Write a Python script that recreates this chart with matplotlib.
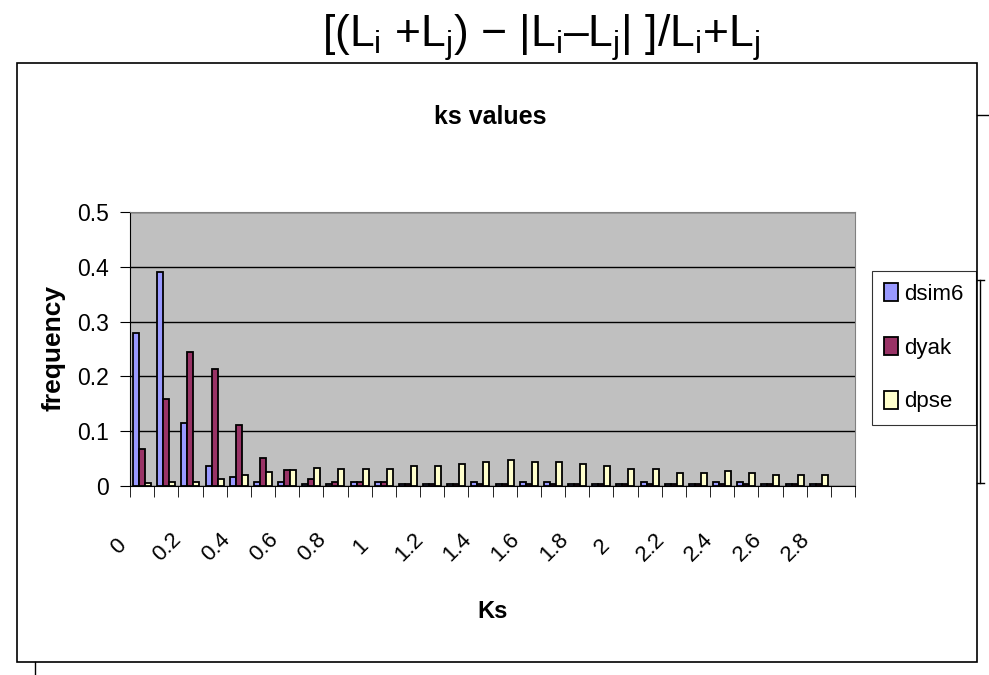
import matplotlib
matplotlib.use('Agg')
import matplotlib.pyplot as plt
from matplotlib.patches import Rectangle
from matplotlib.lines import Line2D
from matplotlib.transforms import ScaledTranslation
import numpy as np

# Ks categories 0.0 .. 2.9, labels on every second one
ks = [round(0.1 * i, 1) for i in range(30)]
tick_labels = ['0', '0.2', '0.4', '0.6', '0.8', '1', '1.2', '1.4', '1.6', '1.8',
               '2', '2.2', '2.4', '2.6', '2.8']

dsim6 = [0.280, 0.390, 0.115, 0.036, 0.017, 0.008, 0.008, 0.004, 0.003, 0.008,
         0.008, 0.003, 0.003, 0.003, 0.008, 0.003, 0.008, 0.008, 0.003, 0.003,
         0.003, 0.008, 0.003, 0.003, 0.008, 0.008, 0.003, 0.003, 0.003, 0.0]
dyak = [0.068, 0.158, 0.245, 0.213, 0.111, 0.052, 0.029, 0.013, 0.008, 0.008,
        0.008, 0.003, 0.003, 0.003, 0.003, 0.003, 0.003, 0.003, 0.003, 0.003,
        0.003, 0.003, 0.003, 0.003, 0.003, 0.003, 0.003, 0.003, 0.003, 0.0]
dpse = [0.005, 0.008, 0.008, 0.013, 0.020, 0.025, 0.029, 0.033, 0.031, 0.031,
        0.031, 0.036, 0.036, 0.040, 0.044, 0.047, 0.044, 0.044, 0.040, 0.036,
        0.031, 0.031, 0.024, 0.024, 0.028, 0.024, 0.020, 0.020, 0.020, 0.0]

series = [('dsim6', dsim6, '#9999FF'), ('dyak', dyak, '#993366'), ('dpse', dpse, '#FFFFCC')]

plt.rcParams['font.family'] = ['Liberation Sans', 'DejaVu Sans']
plt.rcParams['mathtext.fontset'] = 'custom'
plt.rcParams['mathtext.rm'] = 'Liberation Sans'
plt.rcParams['mathtext.it'] = 'Liberation Sans'

W, H = 989, 675
fig = plt.figure(figsize=(W / 100, H / 100), dpi=100)

def fx(px):
    return px / W

def fy(py):
    return 1 - py / H

def fline(xs, ys):
    fig.add_artist(Line2D([fx(v) for v in xs], [fy(v) for v in ys],
                          transform=fig.transFigure, color='black', lw=1))

# outer chart frame and stray frame lines
fig.add_artist(Rectangle((fx(17), fy(662)), fx(977) - fx(17), fy(63) - fy(662),
                         transform=fig.transFigure, fill=False, ec='black', lw=1.2))
fline([977, 989], [115, 115])
fline([980, 980], [280, 483])
fline([977, 984], [280, 280])
fline([977, 984], [483, 483])
fline([35, 35], [662, 675])

ax = fig.add_axes([fx(130), fy(486), fx(855) - fx(130), fy(212) - fy(486)])
ax.set_facecolor('#C0C0C0')

x = np.arange(len(ks))
bw = 0.25
for k, (name, vals, col) in enumerate(series):
    bars = ax.bar(x + (k - 1) * bw, vals, bw, color=col, edgecolor='black',
                  linewidth=1.3, label=name, zorder=3)
    for b, v in zip(bars, vals):
        if v == 0:
            b.set_linewidth(0)

ax.set_xlim(-0.5, len(ks) - 0.5)
ax.set_ylim(0, 0.5)
ax.set_yticks([0, 0.1, 0.2, 0.3, 0.4, 0.5])
ax.set_yticklabels(['0', '0.1', '0.2', '0.3', '0.4', '0.5'], fontsize=16.5)
ax.yaxis.grid(True, color='black', lw=1, zorder=1)

ax.set_xticks(x[::2])
ax.set_xticklabels(tick_labels, rotation=45, ha='center', va='center',
                   rotation_mode='anchor', fontsize=16)
ax.set_xticks(np.arange(len(ks) + 1) - 0.5, minor=True)
ax.tick_params(axis='x', which='major', length=0, pad=44)
ax.tick_params(axis='x', which='minor', length=8, direction='out')
ax.tick_params(axis='y', length=7, direction='out', pad=8)
shift = ScaledTranslation(-23 / 100, 0, fig.dpi_scale_trans)
for lab in ax.get_xticklabels():
    lab.set_transform(lab.get_transform() + shift)

for s in ['top', 'right']:
    ax.spines[s].set_color('#808080')

ax.set_xlabel('Ks', fontsize=17, fontweight='bold', labelpad=25)
fig.text(fx(53), fy(348), 'frequency', fontsize=19, fontweight='bold',
         rotation=90, ha='center', va='center')

fig.text(fx(490), fy(117), 'ks values', fontsize=18, fontweight='bold',
         ha='center', va='center')
fig.text(fx(541), fy(47), '$[(L_i\\ {+}L_j)\\ {-}\\ |L_i{\u2013}L_j|\\ ]/L_i{+}L_j$',
         fontsize=32, ha='center', va='baseline')

axw = fx(855) - fx(130)
leg = ax.legend(loc='upper left', bbox_to_anchor=((fx(872) - fx(130)) / axw, (486 - 271) / 274),
                bbox_transform=ax.transAxes, fontsize=16, frameon=True, fancybox=False,
                edgecolor='black', handlelength=0.6, handleheight=0.85, handletextpad=0.3,
                labelspacing=1.45, borderpad=0.55, borderaxespad=0)
leg.get_frame().set_linewidth(0.8)

fig.savefig('out.png', dpi=100)
